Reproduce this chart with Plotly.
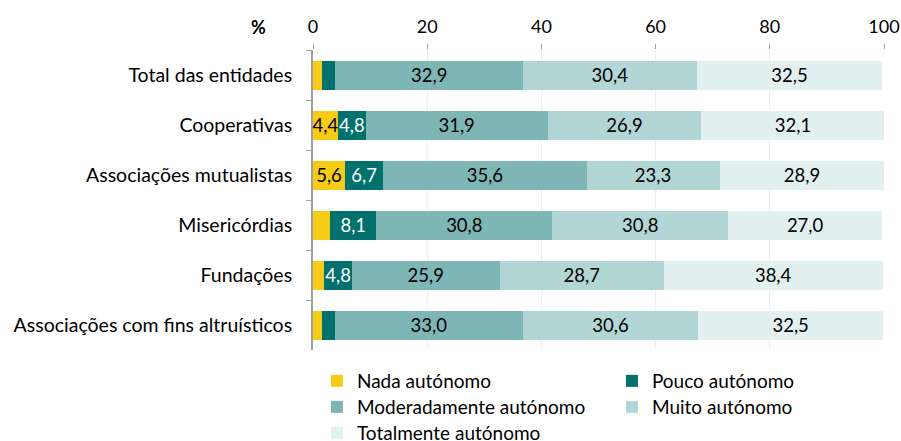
import plotly.graph_objects as go

categories = ["Total das entidades", "Cooperativas", "Associações mutualistas",
              "Misericórdias", "Fundações", "Associações com fins altruísticos"]
series_names = ["Nada autónomo", "Pouco autónomo", "Moderadamente autónomo",
                "Muito autónomo", "Totalmente autónomo"]
nada = [1.5, 4.4, 5.6, 3.0, 2.0, 1.5]
pouco = [2.4, 4.8, 6.7, 8.1, 4.8, 2.3]
moderado = [32.9, 31.9, 35.6, 30.8, 25.9, 33.0]
muito = [30.4, 26.9, 23.3, 30.8, 28.7, 30.6]
totalmente = [32.5, 32.1, 28.9, 27.0, 38.4, 32.5]
tick_vals = [0, 20, 40, 60, 80, 100]

colors = ["#F5CB15", "#00716C", "#7EB6B5", "#B2D5D5", "#E3F0F0"]
text_colors = ["#000000", "#FFFFFF", "#000000", "#000000", "#000000"]
legend_ids = ["legend", "legend", "legend2", "legend2", "legend3"]
FONT = "Lato"

def lab(v):
    return f"{v:.1f}".replace(".", ",") if v >= 4 else ""

fig = go.Figure()
for name, vals, c, tc, lg in zip(series_names, [nada, pouco, moderado, muito, totalmente],
                                 colors, text_colors, legend_ids):
    fig.add_trace(go.Bar(
        y=categories, x=vals, name=name, orientation="h", legend=lg,
        marker=dict(color=c, line=dict(width=0)),
        text=[lab(v) for v in vals], textposition="inside",
        insidetextanchor="middle", textangle=0,
        insidetextfont=dict(family=FONT, size=18.5, color=tc),
        hoverinfo="x+y",
    ))

W, H = 901, 441
L, R, T, B = 313, 17, 50, 91
PW, PH = W - L - R, H - T - B

def legend_cfg(row_y):
    return dict(orientation="h", x=-0.0001, xanchor="left",
                y=(H - B - row_y) / PH, yanchor="middle",
                entrywidth=250, entrywidthmode="pixels", borderwidth=4,
                bordercolor="rgba(0,0,0,0)", bgcolor="rgba(0,0,0,0)",
                traceorder="normal", font=dict(size=19, family=FONT))

fig.update_layout(
    barmode="stack", bargap=0.42,
    width=W, height=H,
    margin=dict(l=L, r=R, t=T, b=B, autoexpand=False),
    paper_bgcolor="white", plot_bgcolor="white",
    font=dict(family=FONT, size=19.5, color="#000000"),
    uniformtext=dict(mode="show", minsize=18.5),
    xaxis=dict(side="top", range=[0, 100], tickvals=tick_vals,
               ticks="outside", ticklen=5, tickcolor="#A0A0A0",
               ticklabelstandoff=4,
               showline=False, showgrid=True, gridcolor="#EEEEEE", gridwidth=1,
               zeroline=False, tickfont=dict(size=18, family=FONT)),
    yaxis=dict(autorange="reversed", showline=True, linecolor="#A0A0A0", linewidth=2,
               ticks="outside", ticklen=5, tickcolor="#A0A0A0", tickson="boundaries",
               ticklabelstandoff=15, showgrid=False, tickfont=dict(size=19.5, family=FONT)),
    legend=legend_cfg(381),
    legend2=legend_cfg(407),
    legend3=legend_cfg(433),
    annotations=[dict(text="<b>%</b>", x=(258 - L) / PW, y=1 + (T - 27) / PH,
                      xref="paper", yref="paper", xanchor="center", yanchor="middle",
                      showarrow=False, font=dict(size=18, family=FONT))],
)

fig.write_html("out.html", config={"displayModeBar": False},
               post_script="document.body.style.margin='0';document.body.style.overflow='hidden';")
